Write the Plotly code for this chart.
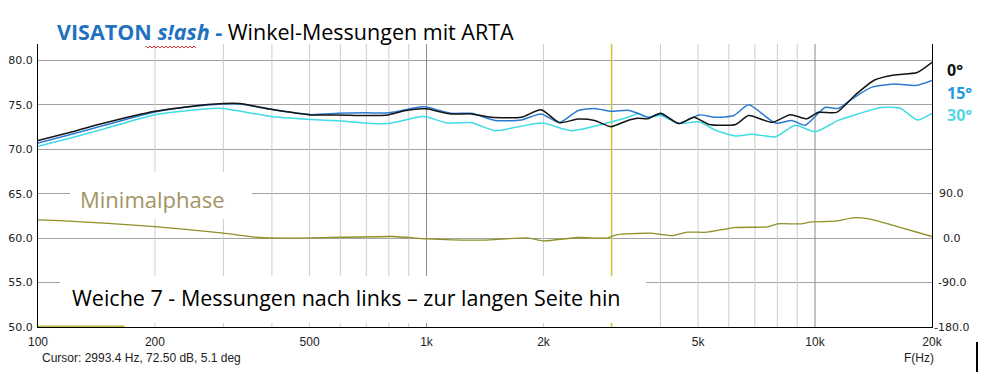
import math
import plotly.graph_objects as go

# ---------------- data ----------------
freq_0 = [100, 122, 148, 200, 243, 300, 330, 398, 505, 591, 700, 797, 877, 971, 1000, 1159, 1305, 1468, 1752,
          1972, 2199, 2451, 2706, 2986, 3297, 3500, 3714, 4007, 4461, 4881, 5330, 6245, 6746, 7753, 8634, 9526,
          10200, 11360, 12650, 14230, 15990, 18310, 20000]
db_0 = [71.0, 71.95, 72.95, 74.27, 74.8, 75.15, 75.15, 74.5, 73.87, 73.87, 73.8, 73.87, 74.34, 74.56, 74.55, 73.98,
        73.98, 73.6, 73.6, 74.45, 73.0, 73.4, 73.25, 72.55, 73.25, 73.5, 73.43, 74.05, 72.9, 73.6, 72.8, 72.8, 73.8,
        73.03, 73.9, 73.43, 74.16, 74.16, 76.06, 77.8, 78.36, 78.65, 79.8]

freq_15 = [100, 122, 148, 200, 243, 300, 330, 398, 505, 591, 700, 797, 971, 1000, 1159, 1305, 1500, 1752, 1972,
           2199, 2451, 2706, 2986, 3297, 3500, 3714, 4007, 4461, 5026, 5542, 6183, 6746, 7905, 8719, 9433, 10610,
           11480, 12400, 13950, 15990, 18310, 20000]
db_15 = [70.7, 71.7, 72.7, 74.2, 74.75, 75.1, 75.1, 74.5, 73.9, 74.05, 74.1, 74.1, 74.8, 74.75, 74.05, 74.05, 73.25,
         73.3, 73.98, 73.0, 74.34, 74.6, 74.27, 74.4, 74.05, 73.6, 73.98, 72.9, 73.87, 73.6, 73.8, 75.0, 72.95, 73.25,
         72.7, 74.7, 74.6, 75.6, 76.97, 77.34, 77.2, 77.74]

freq_30 = [100, 122, 148, 200, 279, 300, 398, 505, 591, 700, 797, 971, 1000, 1130, 1305, 1500, 1752, 1990, 2350,
           2706, 2986, 3297, 3500, 3714, 4007, 4461, 5026, 5542, 6245, 6879, 7905, 8894, 10000, 11480, 12900, 14800,
           16620, 18310, 20000]
db_30 = [70.35, 71.3, 72.3, 73.9, 74.6, 74.6, 73.7, 73.36, 73.2, 72.95, 72.9, 73.7, 73.65, 72.95, 73.0, 72.1, 72.6,
         72.95, 72.1, 72.6, 73.07, 73.6, 74.0, 73.6, 73.8, 72.9, 73.1, 72.15, 71.5, 71.7, 71.4, 72.7, 71.97, 73.25,
         73.98, 74.7, 74.6, 73.3, 74.05]

freq_phase = [100, 114, 200, 300, 372, 454, 821, 1000, 1398, 1816, 2000, 2443, 2914, 3080, 3760, 4316, 4682, 5269,
              6190, 7551, 7999, 9198, 9770, 11200, 12670, 13760, 15560, 20000]
phase_deg = [37, 35.6, 23.5, 10, 1.3, 0, 3.3, -1.5, -4, 0.6, -5.5, 1.3, 0, 6.7, 10, 5.3, 12, 12, 21.5, 22.9, 29, 29,
             33, 34.4, 41.7, 39, 28, 3.3]

marker_bar_freq = [100, 167]
marker_bar_db = [50, 50]

cursor_freq = 2993.4

x_tick_vals = [100, 200, 500, 1000, 2000, 5000, 10000, 20000]
x_tick_text = ["100", "200", "500", "1k", "2k", "5k", "10k", "20k"]
y_tick_vals = [50, 55, 60, 65, 70, 75, 80]
y_tick_text = ["50.0", "55.0", "60.0", "65.0", "70.0", "75.0", "80.0"]
phase_tick_vals = [-180, -90, 0, 90]
phase_tick_text = ["-180.0", "-90.0", "0.0", "90.0"]
grid_freqs = [200, 300, 400, 500, 600, 700, 800, 900, 1000, 2000, 3000, 4000, 5000, 6000, 7000, 8000, 9000, 10000]
major_grid = [1000, 10000]

curve_labels = ["0°", "15°", "30°"]

# ---------------- geometry ----------------
W, H = 984, 377
L, R, T, B = 38, 52, 44, 50
PW = W - L - R
PH = H - T - B
Y_RANGE = [50, 81.85]
P_RANGE = [-180, 393.3]


def px(x):
    return (x - L) / PW


def py(y):
    return (H - B - y) / PH


C0 = "#141414"
C15 = "#2c7bd3"
C30 = "#40dbe6"
CPH = "#8f8f26"
NARROW = "Liberation Sans Narrow, Liberation Sans"

fig = go.Figure()

# vertical grid lines
for f in grid_freqs:
    fig.add_trace(go.Scatter(x=[f, f], y=Y_RANGE, mode="lines",
                             line=dict(color="#8c8c8c" if f in major_grid else "#cdcdcd", width=1),
                             hoverinfo="skip"))

# cursor
fig.add_trace(go.Scatter(x=[cursor_freq, cursor_freq], y=Y_RANGE, mode="lines",
                         line=dict(color="#c9c92a", width=1.3), hoverinfo="skip"))

fig.add_trace(go.Scatter(x=freq_phase, y=phase_deg, yaxis="y2", mode="lines",
                         line=dict(color=CPH, width=1.3, shape="spline", smoothing=0.5)))
fig.add_trace(go.Scatter(x=freq_30, y=db_30, mode="lines",
                         line=dict(color=C30, width=1.5, shape="spline", smoothing=0.6)))
fig.add_trace(go.Scatter(x=freq_15, y=db_15, mode="lines",
                         line=dict(color=C15, width=1.5, shape="spline", smoothing=0.6)))
fig.add_trace(go.Scatter(x=freq_0, y=db_0, mode="lines",
                         line=dict(color=C0, width=1.5, shape="spline", smoothing=0.6)))
fig.add_trace(go.Scatter(x=marker_bar_freq, y=marker_bar_db, mode="lines", cliponaxis=False,
                         line=dict(color="#b8b840", width=3)))

shapes = []
# white boxes behind the in-plot texts
shapes.append(dict(type="rect", xref="paper", yref="paper", x0=px(70), x1=px(252), y0=py(219), y1=py(172),
                   fillcolor="white", line=dict(width=0), layer="above"))
shapes.append(dict(type="rect", xref="paper", yref="paper", x0=px(60), x1=px(646), y0=py(323), y1=py(276),
                   fillcolor="white", line=dict(width=0), layer="above"))
# black cursor bar at bottom right
shapes.append(dict(type="line", xref="paper", yref="paper", x0=px(977), x1=px(977), y0=py(342), y1=py(372),
                   line=dict(color="black", width=2)))
# red wavy underline
pts = []
x = 146
i = 0
while x <= 197:
    yy = 46 if i % 2 == 0 else 48
    pts.append((px(x), py(yy)))
    x += 2
    i += 1
path = "M " + " L ".join(f"{a:.5f},{b:.5f}" for a, b in pts)
shapes.append(dict(type="path", xref="paper", yref="paper", path=path, line=dict(color="#d03030", width=1)))

annotations = []
annotations.append(dict(
    xref="paper", yref="paper", x=px(55), y=py(32), xanchor="left", yanchor="middle", showarrow=False,
    text='<span style="color:#1f72bf"><b>VISATON</b> <b><i>s!ash</i></b> <b>-</b></span> Winkel-Messungen mit ARTA',
    font=dict(family="Open Sans", size=21.5, color="black")))
annotations.append(dict(xref="paper", yref="paper", x=px(78), y=py(199), xanchor="left", yanchor="middle",
                        showarrow=False, text="Minimalphase",
                        font=dict(family="Open Sans", size=22, color="#a39464")))
annotations.append(dict(xref="paper", yref="paper", x=px(70), y=py(297), xanchor="left", yanchor="middle",
                        showarrow=False, text="Weiche 7 - Messungen nach links – zur langen Seite hin",
                        font=dict(family="Open Sans", size=21.5, color="black")))
for lab, col, ypix in zip(curve_labels, [C0, "#1e9be0", "#55d6e6"], [70, 93, 115]):
    annotations.append(dict(xref="paper", yref="paper", x=px(945), y=py(ypix), xanchor="left", yanchor="middle",
                            showarrow=False, text=f"<b>{lab}</b>",
                            font=dict(family="Open Sans", size=16, color=col)))
for v, t in zip(phase_tick_vals, phase_tick_text):
    annotations.append(dict(xref="paper", yref="y2", x=px(952), y=v, xanchor="center", yanchor="middle",
                            showarrow=False, text=t,
                            font=dict(family="DejaVu Sans", size=11, color="#222")))
annotations.append(dict(xref="paper", yref="paper", x=px(40), y=py(358), xanchor="left", yanchor="middle",
                        showarrow=False, text="Cursor: 2993.4 Hz, 72.50 dB, 5.1 deg",
                        font=dict(family=NARROW, size=12, color="#222")))
annotations.append(dict(xref="paper", yref="paper", x=px(936), y=py(358), xanchor="right", yanchor="middle",
                        showarrow=False, text="F(Hz)",
                        font=dict(family=NARROW, size=12, color="#222")))

fig.update_layout(
    width=W, height=H, autosize=False,
    margin=dict(l=L, r=R, t=T, b=B, pad=0),
    plot_bgcolor="white", paper_bgcolor="white",
    showlegend=False,
    shapes=shapes, annotations=annotations,
    xaxis=dict(type="log", range=[math.log10(100), math.log10(20000)], tickvals=x_tick_vals,
               ticktext=x_tick_text, showgrid=False, zeroline=False, showline=True, linecolor="black",
               linewidth=1, ticks="", ticklen=0, automargin=False, ticklabelstandoff=4,
               tickfont=dict(family=NARROW, size=12, color="#222")),
    yaxis=dict(range=Y_RANGE, tickvals=y_tick_vals, ticktext=y_tick_text, showgrid=True,
               gridcolor="#a3a3a3", gridwidth=1, zeroline=False, showline=True, linecolor="black",
               linewidth=1, ticks="", automargin=False, ticklabelstandoff=2,
               tickfont=dict(family="DejaVu Sans", size=11, color="#222")),
    yaxis2=dict(range=P_RANGE, overlaying="y", side="right", showgrid=False, zeroline=False,
                showline=True, linecolor="black", linewidth=1, showticklabels=False, ticks="",
                automargin=False),
)

fig.write_html("out.html", config={"displayModeBar": False},
               post_script="document.body.style.margin='0';document.body.style.overflow='hidden';")
